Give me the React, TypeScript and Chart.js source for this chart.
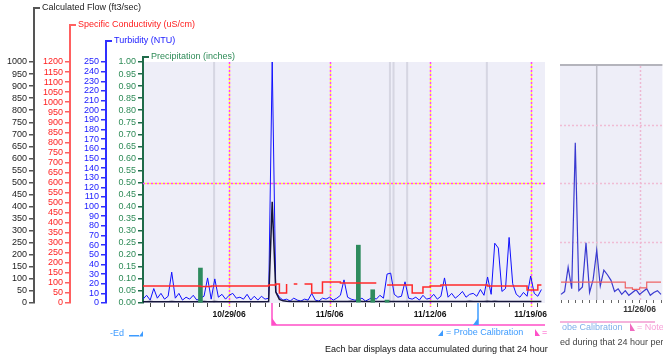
import React, { useEffect, useRef } from "react";
import { Chart, registerables } from "chart.js";

Chart.register(...registerables);

const FONT = "'Liberation Sans', Arial, Helvetica, sans-serif";

// Time axis: day 0 = 10/23/06 00:00, four readings per day
const SAMPLES_PER_DAY = 4;
const weekTickDays = [6, 13, 20, 27];
const weekTickLabels = ["10/29/06", "11/5/06", "11/12/06", "11/19/06"];

const axisTitles = [
  "Calculated Flow (ft3/sec)",
  "Specific Conductivity (uS/cm)",
  "Turbidity (NTU)",
  "Precipitation (inches)",
];

// Turbidity (NTU)
const turbidity = [
  4, 8, 3, 15,
  5, 10, 4, 7,
  32, 5, 10, 3,
  6, 4, 8, 3,
  5, 7, 26, 4,
  25, 6, 9, 4,
  8, 10, 5, 6,
  4, 9, 3, 7,
  3, 7, 4, 5,
  250, 12, 6, 3,
  4, 2, 5, 3,
  2, 4, 3, 10,
  3, 2, 5, 4,
  6, 3, 5, 8,
  24, 6, 4, 3,
  3, 5, 2, 4,
  6, 4, 8, 5,
  30, 31, 9, 6,
  7, 22, 5, 4,
  6, 3, 8, 4,
  5, 9, 4, 7,
  26, 6, 10, 5,
  8, 12, 6, 9,
  10, 7, 14, 8,
  27, 9, 62, 57,
  12, 15, 68, 20,
  9, 6, 11, 7,
  28, 10, 7, 14,
];

// Calculated flow (ft3/sec)
const flow = [
  5, 5, 6, 5,
  5, 5, 5, 5,
  6, 5, 5, 5,
  5, 5, 5, 5,
  5, 6, 5, 5,
  6, 5, 5, 5,
  5, 5, 5, 5,
  5, 5, 5, 5,
  5, 5, 5, 6,
  420, 45, 15, 9,
  7, 6, 6, 6,
  6, 6, 6, 6,
  6, 6, 6, 6,
  6, 6, 6, 6,
  6, 6, 7, 6,
  8, 6, 6, 6,
  6, 6, 6, 6,
  7, 6, 6, 6,
  6, 6, 6, 6,
  6, 6, 6, 6,
  6, 6, 6, 6,
  6, 6, 6, 6,
  6, 6, 6, 7,
  6, 6, 6, 6,
  7, 6, 7, 6,
  6, 6, 6, 6,
  6, 6, 6, 6,
  6, 6, 6, 6,
];

// Specific conductivity (uS/cm)
const conductivity = [
  85, 85, 85, 85,
  85, 85, 85, 85,
  85, 85, 85, 85,
  85, 85, 85, 85,
  82, 82, 82, 85,
  85, 85, 85, 85,
  85, 85, 85, 85,
  85, 85, 85, 85,
  85, 85, 85, 90,
  90, 95, 50, 50,
  95, null, 95, 95,
  null, 95, 95, 50,
  50, 50, 105, 105,
  105, 105, 105, 100,
  100, 100, 100, 100,
  100, 100, 100, 100,
  100, 100, null, null,
  90, 90, 90, 90,
  90, 90, 90, 50,
  50, 50, 80, 80,
  85, 85, 85, 90,
  90, 90, 90, 90,
  90, 90, 90, 90,
  90, 90, 90, 90,
  85, 85, 85, 85,
  85, 85, 85, 85,
  85, 85, 85, 65,
  65, 65, 90, 90,
];

// Daily precipitation (inches)
const precipDays = [4, 15, 16, 17];
const precipInches = [0.145, 0.24, 0.055, 0.012];

const noteDays = [9.0];
const calibrationDays = [23.33];
const grayMarkDays = [4.95, 17.2, 17.45, 18.4, 23.95];

// Continuation panel on the right
const sideStartDay = 28.5;
const sideTickDays = [34];
const sideTickLabels = ["11/26/06"];
const sideTurbidity = [
  6, 9, 35, 12, 168, 10, 14, 61, 8, 22, 53, 15, 32, 27, 21,
  9, 12, 6, 10, 5, 8, 11, 6, 9, 12, 5, 8, 10, 6,
];
const sideConductivity = [
  92, 92, 92, 92, 92, 92, 92, 92, 92, 92, 92, 92, 92, 92, 92,
  92, 92, 92, 62, 62, 55, 55, 62, 62, 92, 92, 92, 92, 92,
];
const sideGrayMarkDays = [31];
const sideGuideLevels = [0.25, 0.5, 0.75];

function dotted(ctx: CanvasRenderingContext2D, x1: number, y1: number, x2: number, y2: number, c1: string, c2: string) {
  ctx.save();
  ctx.lineWidth = 1.5;
  ctx.setLineDash([2, 2]);
  ctx.strokeStyle = c1;
  ctx.lineDashOffset = 0;
  ctx.beginPath(); ctx.moveTo(x1, y1); ctx.lineTo(x2, y2); ctx.stroke();
  if (c2) {
    ctx.strokeStyle = c2;
    ctx.lineDashOffset = 2;
    ctx.beginPath(); ctx.moveTo(x1, y1); ctx.lineTo(x2, y2); ctx.stroke();
  }
  ctx.restore();
}

function tri(ctx: CanvasRenderingContext2D, pts: number[][], color: string) {
  ctx.fillStyle = color;
  ctx.beginPath();
  ctx.moveTo(pts[0][0], pts[0][1]);
  for (let i = 1; i < pts.length; i++) ctx.lineTo(pts[i][0], pts[i][1]);
  ctx.closePath();
  ctx.fill();
}

const axisIds = ["yFlow", "yCond", "yTurb", "yPrecip"];
const axisLineColors = ["#555555", "#ff6060", "#3030ff", "#1f6b4a"];
const axisTextColors = ["#222222", "#ff2020", "#2020ff", "#2e8b57"];
const titleRows = [8, 25, 41, 57];

const mainDecor = {
  id: "mainDecor",
  beforeDraw(chart: any) {
    const { ctx, chartArea: a } = chart;
    ctx.save();
    ctx.fillStyle = "#eeeef8";
    ctx.fillRect(a.left, a.top, a.right - a.left, a.bottom - a.top);
    ctx.restore();
  },
  beforeDatasetsDraw(chart: any) {
    const { ctx, chartArea: a, scales } = chart;
    const x = scales.x;
    ctx.save();
    ctx.strokeStyle = "rgba(185,185,200,0.45)";
    ctx.lineWidth = 2;
    grayMarkDays.forEach((d) => {
      const px = x.getPixelForValue(d);
      ctx.beginPath(); ctx.moveTo(px, a.top); ctx.lineTo(px, a.bottom); ctx.stroke();
    });
    ctx.restore();
    weekTickDays.forEach((d) => {
      const px = Math.round(x.getPixelForValue(d)) + 0.5;
      dotted(ctx, px, a.top, px, a.bottom + 4, "#ff40ff", "#ffff40");
    });
    const py = Math.round(scales.yPrecip.getPixelForValue(0.5)) + 0.5;
    dotted(ctx, a.left, py, a.right, py, "#ff40ff", "#ffff40");
  },
  afterDraw(chart: any) {
    const { ctx, chartArea: a, scales } = chart;
    const x = scales.x;
    ctx.save();
    axisIds.forEach((id, k) => {
      const s = scales[id];
      const xr = s.right;
      ctx.strokeStyle = axisLineColors[k];
      ctx.lineWidth = 2;
      ctx.beginPath();
      ctx.moveTo(xr, a.top);
      ctx.lineTo(xr, titleRows[k]);
      ctx.lineTo(xr + 6, titleRows[k]);
      ctx.stroke();
      ctx.fillStyle = axisTextColors[k];
      ctx.font = `9px ${FONT}`;
      ctx.textBaseline = "middle";
      ctx.textAlign = "left";
      ctx.fillText(axisTitles[k], xr + 8, titleRows[k]);
    });

    const yb = a.bottom + 22;
    noteDays.forEach((d) => {
      const px = Math.round(x.getPixelForValue(d));
      ctx.strokeStyle = "#ff4fc8";
      ctx.lineWidth = 1.5;
      ctx.beginPath(); ctx.moveTo(px, a.bottom); ctx.lineTo(px, yb); ctx.lineTo(a.right, yb); ctx.stroke();
      tri(ctx, [[px, yb - 7], [px, yb], [px + 5, yb]], "#ff4fc8");
    });
    calibrationDays.forEach((d) => {
      const px = Math.round(x.getPixelForValue(d));
      ctx.strokeStyle = "#3d9bff";
      ctx.lineWidth = 1.5;
      ctx.beginPath(); ctx.moveTo(px, a.bottom); ctx.lineTo(px, yb); ctx.stroke();
      tri(ctx, [[px - 5, yb], [px, yb - 7], [px, yb]], "#3d9bff");
    });

    ctx.font = `9px ${FONT}`;
    ctx.textBaseline = "middle";
    // legend fragments
    tri(ctx, [[438, 336], [443, 330], [443, 336]], "#3d9bff");
    ctx.fillStyle = "#3d9bff";
    ctx.fillText("= Probe Calibration", 446, 333);
    tri(ctx, [[535, 329], [535, 336], [540, 336]], "#ff4fc8");
    ctx.fillStyle = "#ff4fc8";
    ctx.fillText("=", 542, 333);
    ctx.fillStyle = "#3d9bff";
    ctx.fillText("-Ed", 110, 334);
    ctx.fillRect(129, 335, 10, 1.5);
    tri(ctx, [[139, 336.5], [143, 331], [143, 336.5]], "#3d9bff");
    // caption
    ctx.fillStyle = "#111111";
    ctx.fillText("Each bar displays data accumulated during that 24 hour", 325, 350);
    ctx.restore();
  },
};

function yAxis(min: number, max: number, step: number, k: number, width: number, weight: number, digits: number) {
  return {
    type: "linear",
    position: "left",
    weight,
    min,
    max,
    ticks: {
      stepSize: step,
      maxTicksLimit: 100,
      autoSkip: false,
      color: axisTextColors[k],
      font: { size: 9, family: FONT },
      padding: 2,
      callback: (v: any) => Number(v).toFixed(digits),
    },
    grid: { drawOnChartArea: false, drawTicks: true, tickLength: 5, color: axisLineColors[k], lineWidth: 1.5 },
    border: { display: true, color: axisLineColors[k], width: 2 },
    afterFit: (s: any) => { s.width = width; },
  };
}

function buildMain(): any {
  const toPts = (arr: any[]) => arr.map((v, i) => ({ x: i / SAMPLES_PER_DAY, y: v }));
  const dayTicks = Array.from({ length: 29 }, (_, i) => i);
  return {
    type: "line",
    data: {
      datasets: [
        { type: "line", label: "Specific Conductivity", data: toPts(conductivity), yAxisID: "yCond", borderColor: "#ff2a2a", borderWidth: 1.5, pointRadius: 0, stepped: true, spanGaps: false },
        { type: "bar", label: "Precipitation", data: precipDays.map((d, i) => ({ x: d, y: precipInches[i] })), yAxisID: "yPrecip", backgroundColor: "#2e8b5e", barThickness: 4 },
        { type: "line", label: "Flow", data: toPts(flow), yAxisID: "yFlow", borderColor: "#15153a", borderWidth: 1.5, pointRadius: 0, tension: 0 },
        { type: "line", label: "Turbidity", data: toPts(turbidity), yAxisID: "yTurb", borderColor: "#1010ff", borderWidth: 1, pointRadius: 0, tension: 0 },
      ],
    },
    options: {
      responsive: false,
      animation: false,
      events: [],
      layout: { padding: { left: 0, right: 118, top: 62, bottom: 35 } },
      plugins: { legend: { display: false }, tooltip: { enabled: false } },
      scales: {
        x: {
          type: "linear",
          min: 0,
          max: 28,
          offset: false,
          afterBuildTicks: (s: any) => { s.ticks = dayTicks.map((v) => ({ value: v })); },
          ticks: {
            autoSkip: false,
            maxRotation: 0,
            color: "#111111",
            font: { size: 8.5, weight: "bold", family: FONT },
            padding: 3,
            callback: (v: any) => {
              const k = weekTickDays.indexOf(Number(v));
              return k >= 0 ? weekTickLabels[k] : "";
            },
          },
          grid: { drawOnChartArea: false, drawTicks: true, tickLength: 4, color: "#444444" },
          border: { display: false },
          afterFit: (s: any) => { s.height = 22; },
        },
        yFlow: yAxis(0, 1000, 50, 0, 34, 4, 0),
        yCond: yAxis(0, 1200, 50, 1, 36, 3, 0),
        yTurb: yAxis(0, 250, 10, 2, 36, 2, 0),
        yPrecip: yAxis(0, 1, 0.05, 3, 37, 1, 2),
      },
    },
    plugins: [mainDecor],
  };
}

const sideDecor = {
  id: "sideDecor",
  beforeDraw(chart: any) {
    const { ctx, chartArea: a } = chart;
    ctx.save();
    ctx.fillStyle = "#eeeef8";
    ctx.fillRect(a.left, a.top, a.right - a.left, a.bottom - a.top);
    ctx.fillStyle = "#b4b4bc";
    ctx.fillRect(a.left, a.top - 2, a.right - a.left, 2);
    ctx.restore();
  },
  beforeDatasetsDraw(chart: any) {
    const { ctx, chartArea: a, scales } = chart;
    const x = scales.x;
    ctx.save();
    ctx.strokeStyle = "rgba(160,160,170,0.6)";
    ctx.lineWidth = 1.5;
    sideGrayMarkDays.forEach((d) => {
      const px = x.getPixelForValue(d);
      ctx.beginPath(); ctx.moveTo(px, a.top); ctx.lineTo(px, a.bottom); ctx.stroke();
    });
    ctx.restore();
    sideGuideLevels.forEach((lv) => {
      const py = Math.round(scales.yPrecipR.getPixelForValue(lv)) + 0.5;
      dotted(ctx, a.left, py, a.right, py, "#f0bcd4", "");
    });
    sideTickDays.forEach((d) => {
      const px = Math.round(x.getPixelForValue(d)) + 0.5;
      dotted(ctx, px, a.top, px, a.bottom, "#eeb8d2", "");
    });
  },
  afterDraw(chart: any) {
    const { ctx, chartArea: a } = chart;
    ctx.save();
    ctx.font = `9px ${FONT}`;
    ctx.textBaseline = "middle";
    ctx.strokeStyle = "#f29ad0";
    ctx.lineWidth = 1.5;
    ctx.beginPath(); ctx.moveTo(a.left, 322); ctx.lineTo(a.left + 95, 322); ctx.stroke();
    ctx.fillStyle = "#7fb0ea";
    ctx.fillText("obe Calibration", a.left + 2, 328);
    tri(ctx, [[a.left + 70, 323], [a.left + 70, 331], [a.left + 75, 331]], "#f06ac0");
    ctx.fillStyle = "#f7a0d8";
    ctx.fillText("= Notes", a.left + 77, 328);
    ctx.fillStyle = "#444444";
    ctx.fillText("ed during that 24 hour period", a.left, 343);
    ctx.restore();
  },
};

function buildSide(): any {
  const toPts = (arr: number[]) => arr.map((v, i) => ({ x: sideStartDay + i / SAMPLES_PER_DAY, y: v }));
  const halfDayTicks = Array.from({ length: 15 }, (_, i) => 28.5 + i / 2);
  return {
    type: "line",
    data: {
      datasets: [
        { type: "line", data: toPts(sideConductivity), yAxisID: "yCondR", borderColor: "#ee6464", borderWidth: 1.2, pointRadius: 0, stepped: true },
        { type: "line", data: toPts(sideTurbidity), yAxisID: "yTurbR", borderColor: "#3a3ad0", borderWidth: 1.2, pointRadius: 0, tension: 0 },
      ],
    },
    options: {
      responsive: false,
      animation: false,
      events: [],
      layout: { padding: { left: 12, right: 0, top: 66, bottom: 40 } },
      plugins: { legend: { display: false }, tooltip: { enabled: false } },
      scales: {
        x: {
          type: "linear",
          min: 28.43,
          max: 35.6,
          offset: false,
          afterBuildTicks: (s: any) => { s.ticks = halfDayTicks.map((v) => ({ value: v })); },
          ticks: {
            autoSkip: false,
            maxRotation: 0,
            color: "#333333",
            font: { size: 8.5, weight: "bold", family: FONT },
            padding: 2,
            callback: (v: any) => {
              const k = sideTickDays.indexOf(Number(v));
              return k >= 0 ? sideTickLabels[k] : "";
            },
          },
          grid: { drawOnChartArea: false, drawTicks: true, tickLength: 3, color: "#666666" },
          border: { display: false },
          afterFit: (s: any) => { s.height = 20; },
        },
        yTurbR: { type: "linear", display: false, min: 0, max: 250 },
        yCondR: { type: "linear", display: false, min: 0, max: 1200 },
        yPrecipR: { type: "linear", display: false, min: 0, max: 1 },
      },
    },
    plugins: [sideDecor],
  };
}

export default function App() {
  const mainRef = useRef<HTMLCanvasElement>(null);
  const sideRef = useRef<HTMLCanvasElement>(null);
  useEffect(() => {
    document.body.style.margin = "0";
    const c1 = new Chart(mainRef.current as HTMLCanvasElement, buildMain());
    const c2 = new Chart(sideRef.current as HTMLCanvasElement, buildSide());
    return () => {
      c1.destroy();
      c2.destroy();
    };
  }, []);
  return (
    <div style={{ position: "relative", width: 663, height: 360, background: "#ffffff", overflow: "hidden" }}>
      <canvas ref={mainRef} width={663} height={360} style={{ position: "absolute", left: 0, top: 0 }} />
      <div style={{ position: "absolute", left: 548, top: 0, width: 115, height: 360, background: "#ffffff" }}>
        <canvas ref={sideRef} width={115} height={360} />
      </div>
    </div>
  );
}
